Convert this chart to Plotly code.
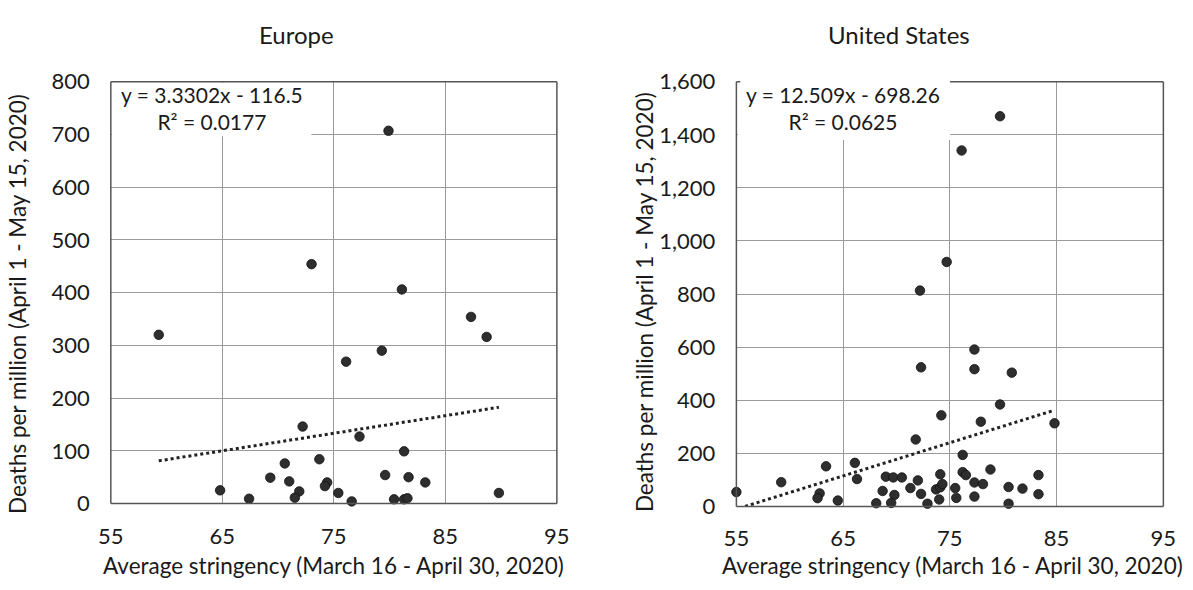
import plotly.graph_objects as go

W, H = 1193, 590

# ---------------- data ----------------
eu_x = [59.3, 87.3, 88.7, 79.3, 76.1, 72.2, 77.3, 81.3, 70.6, 73.7, 69.3, 71.0, 79.6, 81.7, 83.2,
        64.8, 67.4, 71.9, 71.5, 74.4, 74.2, 75.4, 76.6, 80.4, 81.3, 81.6, 89.8, 79.9, 73.0, 81.1]
eu_y = [320, 354, 316, 290, 269, 146, 127, 99, 76, 84, 49, 42, 54, 50, 40,
        25, 9, 23, 11, 40, 33, 20, 4, 8, 8, 10, 20, 707, 454, 406]

us_x = [55.0, 59.2, 63.4, 62.8, 62.6, 64.5, 66.1, 66.3, 68.1, 68.7, 69.0, 69.7, 70.5, 69.8, 69.5,
        71.3, 72.0, 71.8, 72.3, 72.3, 72.9, 74.1, 74.2, 73.7, 74.0, 74.1, 74.3, 75.5, 75.6, 76.2,
        76.2, 76.5, 77.3, 77.3, 77.9, 77.3, 78.1, 77.3, 78.8, 79.7, 80.8, 80.5, 80.5, 81.8, 83.3,
        83.3, 84.8, 79.7, 76.1, 74.7, 72.2]
us_y = [54, 91, 151, 49, 31, 22, 164, 103, 12, 58, 112, 109, 109, 43, 13,
        69, 98, 252, 524, 47, 10, 121, 343, 64, 26, 72, 84, 69, 32, 194,
        129, 118, 591, 517, 319, 90, 84, 37, 139, 384, 504, 73, 10, 67, 118,
        46, 313, 1470, 1341, 921, 813]

eu_slope, eu_icpt, eu_r2 = 3.3302, -116.5, 0.0177
us_slope, us_icpt, us_r2 = 12.509, -698.26, 0.0625

titles = ["Europe", "United States"]
x_title = "Average stringency (March 16 - April 30, 2020)"
y_title = "Deaths per million (April 1 - May 15, 2020)"

# ---------------- layout helpers (pixel -> paper) ----------------
def px(x):
    return x / W

def py(y):
    return 1 - y / H

FONT = "Lato"
TXT = "#1a1a1a"
GRID = "#9a9a9a"
BORDER = "#555555"
DOT = "#2e2e2e"

fig = go.Figure()

marker = dict(size=9.5, color=DOT, line=dict(width=0.8, color="#111"))
fig.add_trace(go.Scatter(x=eu_x, y=eu_y, mode="markers", xaxis="x", yaxis="y",
                         marker=marker, showlegend=False, cliponaxis=False))
fig.add_trace(go.Scatter(x=us_x, y=us_y, mode="markers", xaxis="x2", yaxis="y2",
                         marker=marker, showlegend=False, cliponaxis=False))

def trend(xs, m, b):
    lo, hi = min(xs), max(xs)
    if m * lo + b < 0:
        lo = -b / m
    return [lo, hi], [m * lo + b, m * hi + b]

tx, ty = trend(eu_x, eu_slope, eu_icpt)
fig.add_trace(go.Scatter(x=tx, y=ty, mode="lines", xaxis="x", yaxis="y",
                         line=dict(color="#222", width=3, dash="dot"), showlegend=False))
tx, ty = trend(us_x, us_slope, us_icpt)
fig.add_trace(go.Scatter(x=tx, y=ty, mode="lines", xaxis="x2", yaxis="y2",
                         line=dict(color="#222", width=3, dash="dot"), showlegend=False))

L = dict(x0=100, x1=556, y0=71, y1=513)
R = dict(x0=739.5, x1=1176, y0=71, y1=516)

axis_common = dict(showline=False, zeroline=False, showgrid=True, gridcolor=GRID, gridwidth=1,
                   ticks="", tickfont=dict(family=FONT, size=22, color=TXT))

fig.update_layout(
    width=W, height=H, margin=dict(l=0, r=0, t=0, b=0),
    paper_bgcolor="white", plot_bgcolor="white",
    xaxis=dict(domain=[px(L["x0"]), px(L["x1"])], range=[55, 95], tick0=55, dtick=10,
               anchor="y", ticklabelstandoff=17, **axis_common),
    yaxis=dict(domain=[py(L["y1"]), py(L["y0"])], range=[0, 800], dtick=100,
               anchor="x", ticklabelstandoff=20, **axis_common),
    xaxis2=dict(domain=[px(R["x0"]), px(R["x1"])], range=[55, 95], tick0=55, dtick=10,
                anchor="y2", ticklabelstandoff=17, **axis_common),
    yaxis2=dict(domain=[py(R["y1"]), py(R["y0"])], range=[0, 1600], dtick=200, tickformat=",",
                anchor="x2", ticklabelstandoff=20, **axis_common),
)

shapes = []
# white boxes behind the equations (they hide the grid there)
shapes.append(dict(type="rect", xref="paper", yref="paper", x0=px(101), x1=px(305), y0=py(128), y1=py(72),
                   fillcolor="white", line=dict(width=0), layer="above"))
shapes.append(dict(type="rect", xref="paper", yref="paper", x0=px(741), x1=px(958), y0=py(132), y1=py(68),
                   fillcolor="white", line=dict(width=0), layer="above"))

def line(x0, y0, x1, y1):
    shapes.append(dict(type="line", xref="paper", yref="paper", x0=px(x0), y0=py(y0), x1=px(x1), y1=py(y1),
                       line=dict(color=BORDER, width=1.5), layer="above"))

line(L["x0"], L["y0"], L["x0"], L["y1"])
line(L["x0"], L["y1"], L["x1"], L["y1"])
line(L["x1"], L["y0"], L["x1"], L["y1"])
line(L["x0"], L["y0"], L["x1"], L["y0"])
line(R["x0"], R["y0"], R["x0"], R["y1"])
line(R["x0"], R["y1"], R["x1"], R["y1"])
line(R["x1"], R["y0"], R["x1"], R["y1"])
line(958, R["y0"], R["x1"], R["y0"])
line(R["x0"], R["y0"], R["x0"] + 4, R["y0"])
fig.update_layout(shapes=shapes)

ann = []
def text(t, x, y, size=21, xanchor="center", angle=0):
    ann.append(dict(text=t, x=px(x), y=py(y), xref="paper", yref="paper", showarrow=False,
                    xanchor=xanchor, yanchor="middle", textangle=angle, align="center",
                    font=dict(family=FONT, size=size, color=TXT)))

text(titles[0], 290, 22, size=24)
text(titles[1], 906, 22, size=24)
text(x_title, 328, 578, size=22.5)
text(x_title, 960, 578, size=22.5)
text(y_title, 4, 304, size=22.5, angle=-90)
text(y_title, 645, 302, size=22.5, angle=-90)

def eq(m, b, r2):
    return f"y = {m}x - {abs(b)}<br>R² = {r2}"

text(eq(eu_slope, eu_icpt, eu_r2), 203, 98, size=21)
text(eq(us_slope, us_icpt, us_r2), 849, 99, size=21)
fig.update_layout(annotations=ann)

fig.write_html("out.html")
